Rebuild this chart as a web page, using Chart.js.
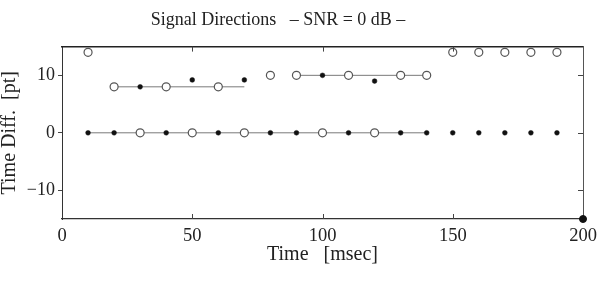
<!DOCTYPE html>
<html>
<head>
<meta charset="utf-8">
<script src="https://cdn.jsdelivr.net/npm/chart.js@4/dist/chart.umd.min.js"></script>
<style>
  html, body { margin: 0; padding: 0; background: #fff; }
  #wrap { width: 606px; height: 282px; }
</style>
</head>
<body>
<div id="wrap"><canvas id="signalChart"></canvas></div>
<script>
// open circles
const circleTime = [10, 20, 40, 60, 80, 90, 110, 130, 140, 150, 160, 170, 180, 190, 30, 50, 70, 100, 120];
const circleDiff = [14, 8, 8, 8, 10, 10, 10, 10, 10, 14, 14, 14, 14, 14, 0, 0, 0, 0, 0];
// filled stars
const starTime = [10, 20, 40, 60, 80, 90, 110, 130, 140, 150, 160, 170, 180, 190, 30, 50, 70, 100, 120];
const starDiff = [0, 0, 0, 0, 0, 0, 0, 0, 0, 0, 0, 0, 0, 0, 8, 9.2, 9.2, 10, 9];
// connecting segments
const lineA = { time: [10, 140], diff: [0, 0] };
const lineB = { time: [20, 70], diff: [8, 8] };
const lineC = { time: [90, 140], diff: [10, 10] };
const cornerTime = [200];
const cornerDiff = [-15];

const xTicks = [0, 50, 100, 150, 200];
const yTicks = [-10, 0, 10];

const pts = (xs, ys) => xs.map((x, i) => ({ x: x, y: ys[i] }));
const serif = "'Liberation Serif', 'DejaVu Serif', serif";
const nb = n => '\u00a0'.repeat(n);

// small inward ticks on bottom, top and right edges
const innerTicks = {
  id: 'innerTicks',
  afterDraw(chart) {
    const c = chart.ctx, a = chart.chartArea;
    const xs = chart.scales.x, ys = chart.scales.y;
    c.save();
    c.strokeStyle = '#444';
    c.lineWidth = 1;
    c.beginPath();
    xTicks.slice(1, -1).forEach(v => {
      const px = Math.round(xs.getPixelForValue(v)) + 0.5;
      c.moveTo(px, a.bottom); c.lineTo(px, a.bottom - 5);
      c.moveTo(px, a.top); c.lineTo(px, a.top + 5);
    });
    yTicks.forEach(v => {
      const py = Math.round(ys.getPixelForValue(v)) + 0.5;
      c.moveTo(a.right, py); c.lineTo(a.right - 5, py);
    });
    c.stroke();
    c.restore();
  }
};

const lineStyle = {
  type: 'line', showLine: true, borderColor: '#7a7a7a', borderWidth: 1,
  pointRadius: 0, fill: false, clip: false, order: 3
};

new Chart(document.getElementById('signalChart').getContext('2d'), {
  type: 'scatter',
  data: {
    datasets: [
      Object.assign({ label: 'seg1', data: pts(lineA.time, lineA.diff) }, lineStyle),
      Object.assign({ label: 'seg2', data: pts(lineB.time, lineB.diff) }, lineStyle),
      Object.assign({ label: 'seg3', data: pts(lineC.time, lineC.diff) }, lineStyle),
      {
        label: 'circles', data: pts(circleTime, circleDiff),
        pointStyle: 'circle', pointRadius: 4, pointBorderWidth: 1.2,
        borderColor: '#555', backgroundColor: '#fff', clip: false, order: 1
      },
      {
        label: 'stars', data: pts(starTime, starDiff),
        pointStyle: 'circle', pointRadius: 2.4, pointBorderWidth: 0.5,
        borderColor: '#111', backgroundColor: '#111', clip: false, order: 1
      },
      {
        label: 'corner', data: pts(cornerTime, cornerDiff),
        pointStyle: 'circle', pointRadius: 3.5, borderColor: '#111',
        backgroundColor: '#111', clip: false, order: 0
      }
    ]
  },
  options: {
    responsive: true,
    maintainAspectRatio: false,
    animation: false,
    layout: { padding: { left: 0, right: 23, top: 0, bottom: 15 } },
    plugins: {
      legend: { display: false },
      tooltip: { enabled: false },
      title: {
        display: true,
        text: 'Signal Directions   \u2013 SNR = 0 dB \u2013' + nb(6),
        color: '#222',
        font: { family: serif, size: 18, weight: 'normal', lineHeight: 1.2 },
        padding: { top: 9, bottom: 16 },
        align: 'center'
      }
    },
    scales: {
      x: {
        type: 'linear', position: 'bottom', min: 0, max: 200,
        afterBuildTicks: s => { s.ticks = xTicks.map(v => ({ value: v })); },
        afterFit: s => { s.height = 48; },
        grid: { display: false, drawTicks: false },
        border: { display: true, color: '#333', width: 1.3 },
        ticks: { color: '#222', padding: 6, maxRotation: 0, font: { family: serif, size: 18.5 } },
        title: {
          display: true, text: 'Time' + nb(3) + '[msec]', color: '#222',
          font: { family: serif, size: 20, lineHeight: 1.2 }, padding: { top: 0, bottom: 0 }
        }
      },
      y: {
        type: 'linear', position: 'left', min: -15, max: 15,
        afterBuildTicks: s => { s.ticks = yTicks.map(v => ({ value: v })); },
        afterFit: s => { s.width = 62; },
        grid: { display: true, drawOnChartArea: false, drawTicks: true, tickLength: 4, color: '#444' },
        border: { display: true, color: '#333', width: 1 },
        ticks: {
          color: '#222', padding: 3, font: { family: serif, size: 18 },
          callback: v => (v < 0 ? '\u2212' + Math.abs(v) : String(v))
        },
        title: {
          display: true, text: 'Time Diff.  [pt]', color: '#222',
          font: { family: serif, size: 20, lineHeight: 1.0 }, padding: { top: 0, bottom: 0 }
        }
      },
      x2: {
        type: 'linear', position: 'top', min: 0, max: 200,
        afterFit: s => { s.height = 0; },
        grid: { display: false, drawTicks: false },
        border: { display: true, color: '#222', width: 1.6 },
        ticks: { display: false }
      },
      y2: {
        type: 'linear', position: 'right', min: -15, max: 15,
        afterFit: s => { s.width = 0; },
        grid: { display: false, drawTicks: false },
        border: { display: true, color: '#555', width: 1 },
        ticks: { display: false }
      }
    }
  },
  plugins: [innerTicks]
});
</script>
</body>
</html>
